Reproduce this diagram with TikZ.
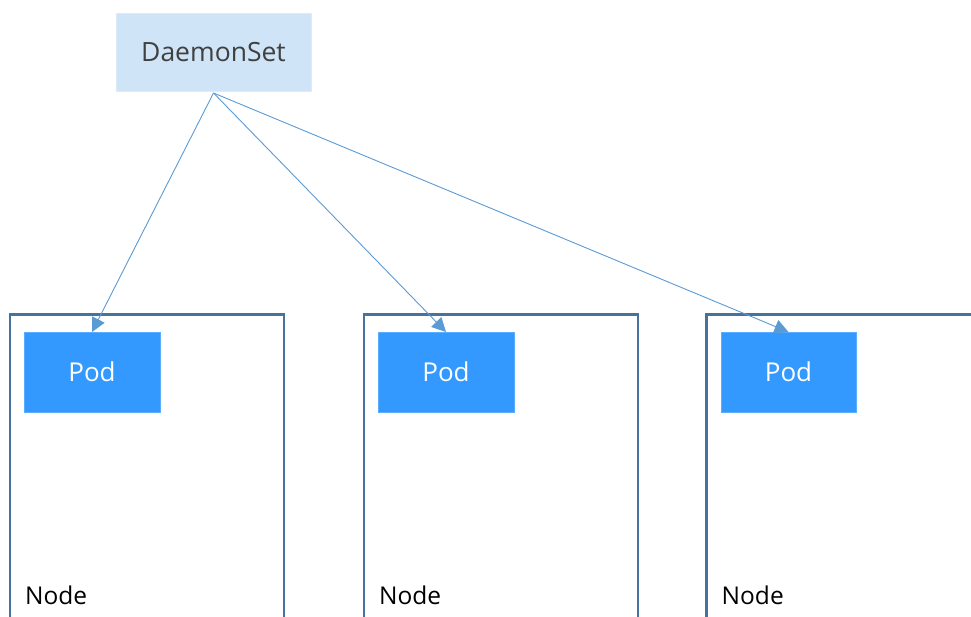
\documentclass[tikz,border=0pt]{standalone}
\usepackage{fontspec}
\setmainfont{Open Sans}
\usetikzlibrary{arrows.meta}
\definecolor{dsfill}{HTML}{D0E4F7}
\definecolor{dsline}{HTML}{DCEBFA}
\definecolor{dstext}{HTML}{404040}
\definecolor{podfill}{HTML}{3399FF}
\definecolor{podline}{HTML}{5AADFF}
\definecolor{nodeline}{HTML}{48729E}
\definecolor{arrowc}{HTML}{5B9BD5}
\tikzset{
  dsbox/.style={draw=dsline, fill=dsfill, line width=0.8pt, minimum width=195pt, minimum height=78pt,
    anchor=north west, inner sep=0pt, outer sep=0pt, text=dstext, font=\fontsize{26.5}{31}\selectfont},
  podbox/.style={draw=podline, fill=podfill, line width=0.8pt, minimum width=136pt, minimum height=80pt,
    anchor=north west, inner sep=0pt, outer sep=0pt, text=white, font=\fontsize{26}{31}\selectfont},
  hostbox/.style={draw=nodeline, line width=2.6pt, minimum width=274pt, minimum height=400pt,
    anchor=north west, inner sep=0pt, outer sep=0pt},
  hostlabel/.style={anchor=base west, inner sep=0pt, text=black, font=\fontsize{24.5}{29}\selectfont},
  link/.style={draw=arrowc, line width=0.9pt, -{Triangle[length=14pt,width=14pt]}}
}
\begin{document}
\begin{tikzpicture}[x=1pt,y=-1pt]
\useasboundingbox[fill=white] (0,0) rectangle (971,617);
% host nodes
\node[hostbox] (h1) at (10,314.5) {};
\node[hostbox] (h2) at (364,314.5) {};
\node[hostbox] (h3) at (706.5,314.5) {};
\node[hostlabel] (l1) at ([xshift=15pt]h1.north west |- 0,604.5) {Node};
\node[hostlabel] (l2) at ([xshift=15pt]h2.north west |- 0,604.5) {Node};
\node[hostlabel] (l3) at ([xshift=15pt]h3.north west |- 0,604.5) {Node};
% daemonset
\node[dsbox] (ds) at (116,13) {DaemonSet};
% pods
\node[podbox] (p1) at (24,332) {Pod};
\node[podbox] (p2) at (378,332) {Pod};
\node[podbox, minimum width=135pt] (p3) at (721,332) {Pod};
% arrows
\draw[link] ([yshift=-2pt]ds.south) -- (p1.north);
\draw[link] ([yshift=-2pt]ds.south) -- (p2.north);
\draw[link] ([yshift=-2pt]ds.south) -- (p3.north);
\end{tikzpicture}
\end{document}
